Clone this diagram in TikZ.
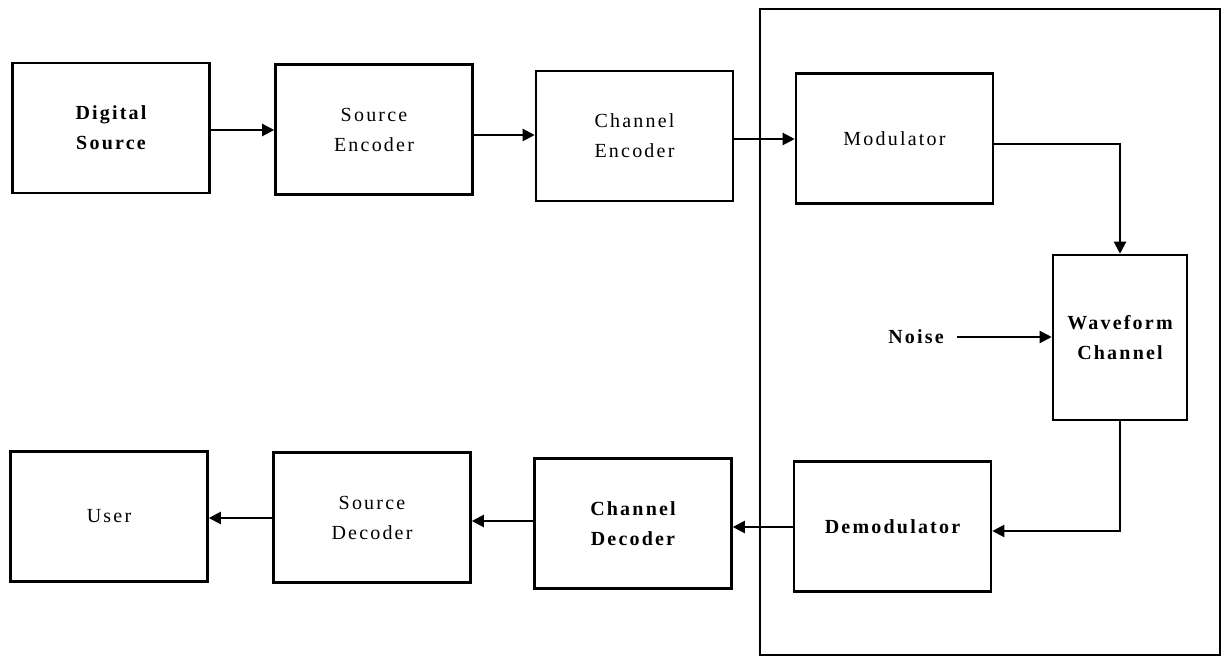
\documentclass[tikz,border=0pt]{standalone}
\usepackage{fontspec}
\setmainfont{Liberation Serif}
\newfontfamily\spacedfont[LetterSpace=11]{Liberation Serif}
\usetikzlibrary{arrows.meta}
\begin{document}
\begin{tikzpicture}[x=1pt,y=-1pt,
  blk/.style={draw, line width=2.6pt, inner sep=0pt, align=center,
    minimum width=197pt, minimum height=130pt,
    font=\spacedfont\fontsize{20}{30}\selectfont},
  boldtxt/.style={font=\spacedfont\bfseries\fontsize{20}{30}\selectfont},
  conn/.style={line width=2.2pt, -{Triangle[length=12pt,width=12pt]}},
  frame/.style={draw, line width=2.6pt, inner sep=0pt}
]
\useasboundingbox (0,0) rectangle (1227,659);

% outer frame
\node[frame, minimum width=460pt, minimum height=646pt] (sys) at (990,332) {};

% top row
\node[blk, boldtxt] (ds) at (111,128) {Digital\\Source};
\node[blk] (se) at (374,129.5) {Source\\Encoder};
\node[blk] (ce) at (634.5,136) {Channel\\Encoder};
\node[blk] (mod) at (894.5,138.5) {Modulator};

% channel
\node[blk, boldtxt, minimum width=134pt, minimum height=165pt] (wc) at (1120,337.5) {Waveform\\Channel};
\node[boldtxt, anchor=east, inner sep=0pt] (noise) at (944,337) {Noise};

% bottom row
\node[blk, boldtxt] (dem) at (892.5,526.5) {Demodulator};
\node[blk, boldtxt] (cd) at (633,523.5) {Channel\\Decoder};
\node[blk] (sd) at (372,517.5) {Source\\Decoder};
\node[blk] (user) at (109,516.5) {User};

% connectors
\draw[conn] (ds.east |- 0,130) -- (se.west |- 0,130);
\draw[conn] (se.east |- 0,135) -- (ce.west |- 0,135);
\draw[conn] (ce.east |- 0,139) -- (mod.west |- 0,139);
\draw[conn] (mod.east |- 0,144) -| (wc.north);
\draw[conn] ([xshift=13pt]noise.east) -- (wc.west |- noise.east);
\draw[conn] (wc.south) |- (dem.east |- 0,531);
\draw[conn] (dem.west |- 0,527) -- (cd.east |- 0,527);
\draw[conn] (cd.west |- 0,521) -- (sd.east |- 0,521);
\draw[conn] (sd.west |- 0,518) -- (user.east |- 0,518);
\end{tikzpicture}
\end{document}
